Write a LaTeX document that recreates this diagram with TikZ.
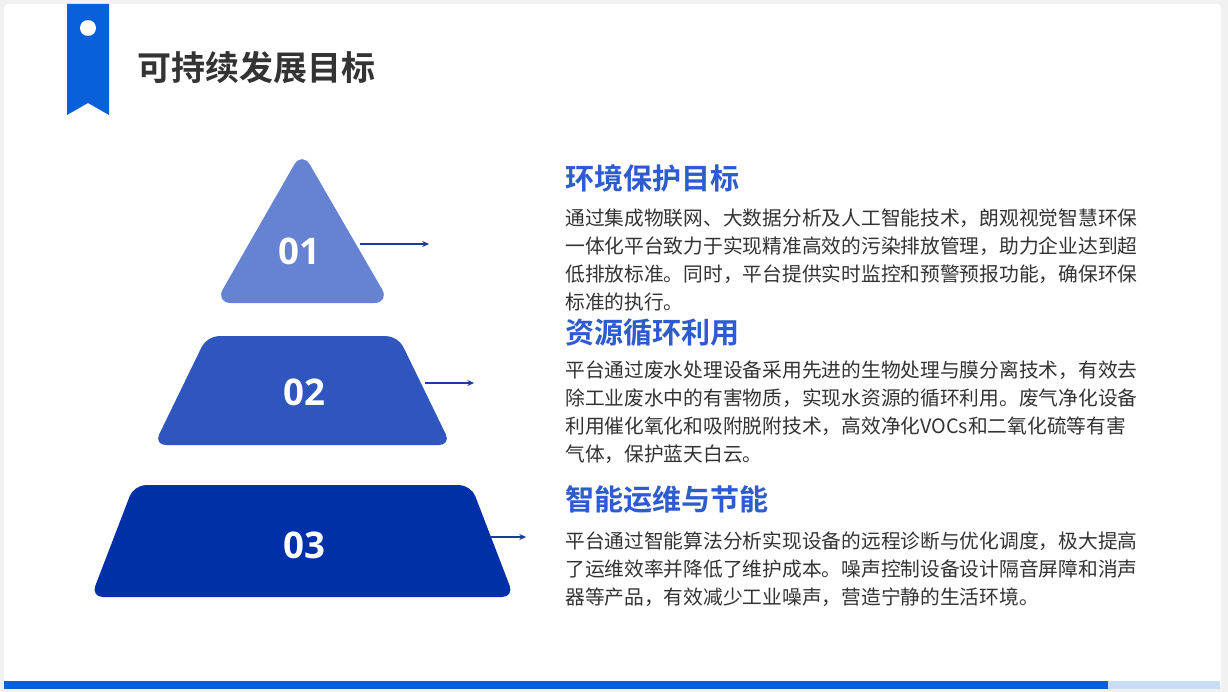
\documentclass[tikz,border=0pt]{standalone}
\usepackage{fontspec}
\setmainfont{Noto Sans CJK SC}[BoldFont={Noto Sans CJK SC Bold}]
\newfontfamily\numfont{Open Sans}
\usepackage{tikz}
\usetikzlibrary{arrows.meta,positioning}
\usepackage{xcolor}

\definecolor{pagegray}{HTML}{F1F1F1}
\definecolor{markblue}{HTML}{0A60D8}
\definecolor{barlight}{HTML}{C9DCF5}
\definecolor{headblue}{HTML}{2D5BD0}
\definecolor{titlegray}{HTML}{333333}
\definecolor{bodygray}{HTML}{333333}
\definecolor{levelA}{HTML}{6582D3}
\definecolor{levelB}{HTML}{2E56BE}
\definecolor{levelC}{HTML}{0030A8}
\definecolor{arrowblue}{HTML}{1C3C9C}

\begin{document}
\begin{tikzpicture}[x=0.75pt, y=-0.75pt,
	number/.style={text=white, font=\numfont\fontsize{27.5}{30}\selectfont\bfseries},
	heading/.style={anchor=west, inner sep=0pt, text=headblue, font=\fontsize{21.8}{26}\selectfont\bfseries},
	body/.style={anchor=north west, inner sep=0pt, align=left, text=bodygray, font=\fontsize{14.8}{21}\selectfont},
	pointer/.style={arrowblue, line width=1.5pt, -{Stealth[length=5pt, width=4.5pt]}}]
	\useasboundingbox (0,0) rectangle (1228,692);
	% page and card
	\fill[pagegray] (0,0) rectangle (1228,692);
	\fill[white, rounded corners=3pt] (4,4) rectangle (1221,689);
	\fill[markblue] (4,681) rectangle (1108,689);
	\fill[barlight] (1108,681) rectangle (1220,689);
	
	% bookmark and title
	\fill[markblue] (67,4) -- (109,4) -- (109,115) -- (88,103) -- (67,115) -- cycle;
	\fill[white] (88,28) circle[radius=6pt];
	\node[anchor=west, inner sep=0pt, text=titlegray, font=\fontsize{25.5}{30}\selectfont\bfseries] (title) at (137,68) {可持续发展目标};
	
	% pyramid
	\fill[levelA, rounded corners=12pt] (302,151) -- (390,303) -- (215,303) -- cycle;
	\fill[levelB, rounded corners=9pt] (207,336) -- (398,336) -- (451,445) -- (154,445) -- cycle;
	\fill[levelC, rounded corners=9pt] (134,485) -- (471,485) -- (514,597) -- (91,597) -- cycle;
	
	\node[number] (n1) at (299,251) {01};
	\node[number] (n2) at (304,392) {02};
	\node[number] (n3) at (304,545) {03};
	
	\coordinate (s1) at (360,244);
	\coordinate (e1) at (429,244);
	\coordinate (s2) at (425,383);
	\coordinate (e2) at (474,383);
	\coordinate (s3) at (491,537);
	\coordinate (e3) at (526,537);
	\draw[pointer] (s1) -- (e1);
	\draw[pointer] (s2) -- (e2);
	\draw[pointer] (s3) -- (e3);
	
	% texts
	\node[heading] (h1) at (565,178) {环境保护目标};
	\node[body] (b1) at (565,209) {通过集成物联网、大数据分析及人工智能技术，朗观视觉智慧环保\\一体化平台致力于实现精准高效的污染排放管理，助力企业达到超\\低排放标准。同时，平台提供实时监控和预警预报功能，确保环保\\标准的执行。};
	
	\node[heading] (h2) at (565,333) {资源循环利用};
	\node[body] (b2) at (565,361) {平台通过废水处理设备采用先进的生物处理与膜分离技术，有效去\\除工业废水中的有害物质，实现水资源的循环利用。废气净化设备\\利用催化氧化和吸附脱附技术，高效净化VOCs和二氧化硫等有害\\气体，保护蓝天白云。};
	
	\node[heading] (h3) at (565,500) {智能运维与节能};
	\node[body] (b3) at (565,532) {平台通过智能算法分析实现设备的远程诊断与优化调度，极大提高\\了运维效率并降低了维护成本。噪声控制设备设计隔音屏障和消声\\器等产品，有效减少工业噪声，营造宁静的生活环境。};
\end{tikzpicture}
\end{document}
